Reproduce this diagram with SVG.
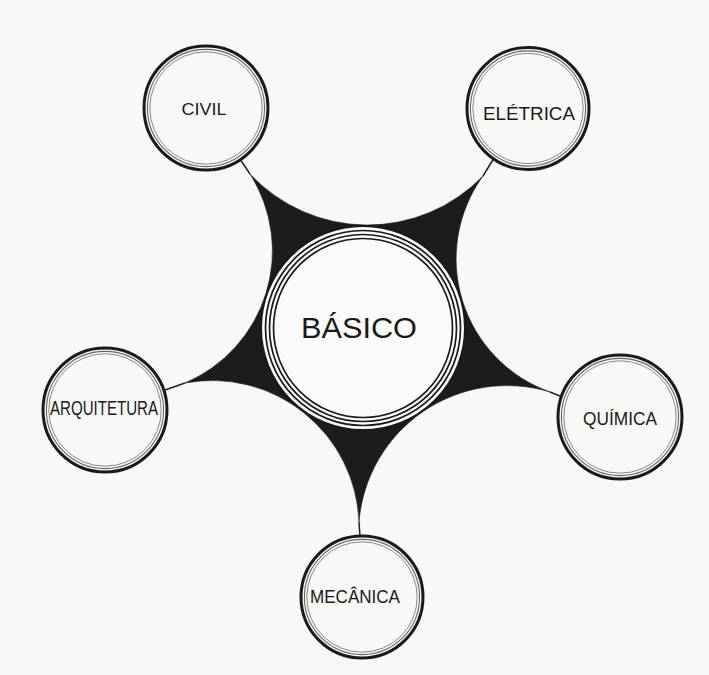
<svg xmlns="http://www.w3.org/2000/svg" width="709" height="675" viewBox="0 0 709 675">
<style>
.bg{fill:#f8f8f6}
.star{fill:#1c1c1c;stroke:#1c1c1c;stroke-width:0.6}
.link{stroke:#222;stroke-width:1.5;fill:none}
.o1{fill:#f8f8f6;stroke:#1a1a1a;stroke-width:3}
.o2{fill:none;stroke:#666;stroke-width:1.1}
.o3{fill:none;stroke:#888;stroke-width:1}
.c1{fill:#fbfbf9;stroke:#1a1a1a;stroke-width:2}
.c2{fill:none;stroke:#1a1a1a;stroke-width:1.7}
.lbl{font-family:"Liberation Sans",Arial,sans-serif;fill:#1a1a1a;text-anchor:middle}
</style>
<rect class="bg" x="0" y="0" width="709" height="675"/>
<g id="connectors">
<path class="star" d="M 250 174 A 160.7 160.7 0 0 0 483 176 A 141.3 141.3 0 0 0 550 392 A 148.4 148.4 0 0 0 359 522 A 147.1 147.1 0 0 0 185 383 A 143.4 143.4 0 0 0 250 174 Z"/>
<line class="link" x1="250" y1="174" x2="240" y2="159"/>
<line class="link" x1="483" y1="176" x2="494" y2="158"/>
<line class="link" x1="550" y1="392" x2="560" y2="396"/>
<line class="link" x1="359" y1="522" x2="360" y2="537"/>
<line class="link" x1="185" y1="383" x2="165" y2="390"/>
</g>
<g id="basico">
<circle class="c1" cx="363" cy="328" r="102"/>
<circle class="c2" cx="363" cy="328" r="97.5"/>
<circle class="c2" cx="363" cy="328" r="93.5"/>
<circle class="c2" cx="363" cy="328" r="89.5"/>
<text class="lbl" x="359" y="338" font-size="29" textLength="116" lengthAdjust="spacingAndGlyphs">BÁSICO</text>
</g>
<g id="civil">
<circle class="o1" cx="206" cy="108" r="62"/>
<circle class="o2" cx="206" cy="108" r="58.6"/>
<circle class="o3" cx="206" cy="108" r="56.2"/>
<text class="lbl" x="204" y="115" font-size="16.5" textLength="45" lengthAdjust="spacingAndGlyphs">CIVIL</text>
</g>
<g id="eletrica">
<circle class="o1" cx="528" cy="108.5" r="61"/>
<circle class="o2" cx="528" cy="108.5" r="57.6"/>
<circle class="o3" cx="528" cy="108.5" r="55.2"/>
<text class="lbl" x="529" y="120" font-size="17.5" textLength="92" lengthAdjust="spacingAndGlyphs">ELÉTRICA</text>
</g>
<g id="arquitetura">
<circle class="o1" cx="105" cy="410" r="62"/>
<circle class="o2" cx="105" cy="410" r="58.6"/>
<circle class="o3" cx="105" cy="410" r="56.2"/>
<text class="lbl" x="104" y="415" font-size="20" textLength="108" lengthAdjust="spacingAndGlyphs">ARQUITETURA</text>
</g>
<g id="quimica">
<circle class="o1" cx="620" cy="417" r="62"/>
<circle class="o2" cx="620" cy="417" r="58.6"/>
<circle class="o3" cx="620" cy="417" r="56.2"/>
<text class="lbl" x="620" y="425" font-size="17.5" textLength="74" lengthAdjust="spacingAndGlyphs">QUÍMICA</text>
</g>
<g id="mecanica">
<circle class="o1" cx="362" cy="597" r="61"/>
<circle class="o2" cx="362" cy="597" r="57.6"/>
<circle class="o3" cx="362" cy="597" r="55.2"/>
<text class="lbl" x="355" y="603" font-size="19" textLength="90" lengthAdjust="spacingAndGlyphs">MECÂNICA</text>
</g>
</svg>
